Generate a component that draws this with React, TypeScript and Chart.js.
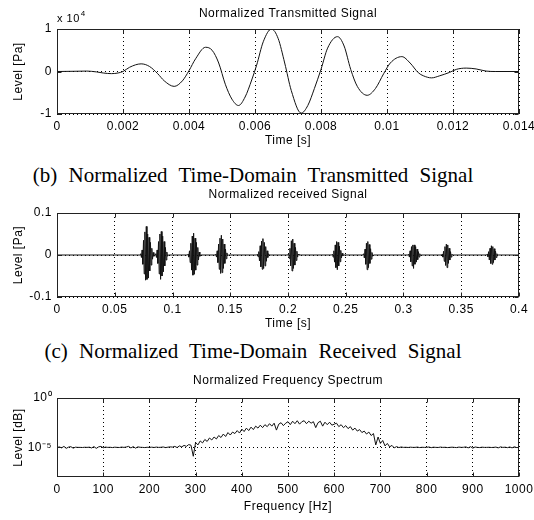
import React, { useEffect, useRef } from "react";
import { Chart, registerables } from "chart.js";

Chart.register(...registerables);

const FONT = "'Liberation Sans', Arial, Helvetica, sans-serif";
const SERIF = "'Liberation Serif', 'Times New Roman', serif";

// ---------- Panel 1: Normalized Transmitted Signal (level in units of 10^4 Pa) ----------
const txTime = [
  0, 0.0005, 0.0009, 0.0012, 0.0014, 0.00165, 0.00185, 0.002, 0.0022, 0.00255,
  0.0028, 0.00305, 0.00325, 0.00355, 0.0038, 0.004, 0.0042, 0.0045, 0.0047, 0.0049,
  0.0051, 0.0053, 0.0055, 0.0057, 0.0059, 0.00605, 0.00625, 0.0065, 0.0067, 0.0069,
  0.0071, 0.0074, 0.0076, 0.0078, 0.008, 0.0082, 0.0085, 0.0087, 0.0089, 0.0091,
  0.0094, 0.00965, 0.0099, 0.0101, 0.01045, 0.0107, 0.01095, 0.0111, 0.01135, 0.0116,
  0.0119, 0.0121, 0.0124, 0.0127, 0.013, 0.0133, 0.014,
];
const txLevel = [
  0, 0.005, 0.01, -0.01, -0.035, -0.05, -0.035, 0, 0.1, 0.18,
  0.12, -0.05, -0.22, -0.35, -0.22, 0.02, 0.3, 0.57, 0.5, 0.2,
  -0.3, -0.65, -0.8, -0.6, -0.2, 0.15, 0.7, 1.0, 0.78, 0.2,
  -0.45, -0.98, -0.8, -0.4, 0.05, 0.55, 0.82, 0.6, 0.05, -0.35,
  -0.56, -0.4, -0.05, 0.2, 0.35, 0.2, -0.03, -0.1, -0.15, -0.1,
  -0.02, 0.05, 0.08, 0.06, 0.01, 0, 0,
];
const txXTicks = [0, 0.002, 0.004, 0.006, 0.008, 0.01, 0.012, 0.014];
const txXTickLabels = ["0", "0.002", "0.004", "0.006", "0.008", "0.01", "0.012", "0.014"];
const txYTicks = [-1, 0, 1];
const txYTickLabels = ["-1", "0", "1"];

// ---------- Panel 2: Normalized received Signal ----------
const rxSampleStep = 0.0006;
const rxBurstStart = [0.0725, 0.0855, 0.1135, 0.1375, 0.1735, 0.2005, 0.2385, 0.2655, 0.3045, 0.3335, 0.3725];
const rxBurstSamples = [
  [0.003, -0.006, 0.012, -0.022, 0.035, -0.045, 0.055, -0.06, 0.068, -0.058, 0.05, -0.055, 0.042, -0.038, 0.03, -0.024, 0.016, -0.01, 0.006, -0.003],
  [0.003, -0.006, 0.012, -0.02, 0.032, -0.045, 0.05, -0.058, 0.056, -0.05, 0.045, -0.04, 0.032, -0.026, 0.018, -0.012, 0.007, -0.003],
  [0.002, -0.005, 0.01, -0.018, 0.028, -0.036, 0.045, -0.048, 0.052, -0.046, 0.04, -0.036, 0.03, -0.024, 0.018, -0.012, 0.007, -0.003],
  [0.002, -0.005, 0.01, -0.018, 0.026, -0.034, 0.04, -0.044, 0.047, -0.042, 0.038, -0.032, 0.026, -0.02, 0.014, -0.009, 0.005, -0.002],
  [0.002, -0.004, 0.008, -0.014, 0.022, -0.028, 0.033, -0.034, 0.039, -0.032, 0.03, -0.026, 0.02, -0.015, 0.01, -0.006, 0.003],
  [0.003, -0.008, 0.016, -0.026, 0.034, -0.038, 0.038, -0.032, 0.028, -0.024, 0.018, -0.013, 0.009, -0.005, 0.002],
  [0.002, -0.005, 0.01, -0.017, 0.024, -0.03, 0.032, -0.035, 0.03, -0.026, 0.021, -0.016, 0.011, -0.007, 0.004, -0.002],
  [0.003, -0.007, 0.014, -0.022, 0.028, -0.035, 0.032, -0.03, 0.025, -0.02, 0.015, -0.01, 0.006, -0.003],
  [0.002, -0.005, 0.01, -0.016, 0.02, -0.026, 0.024, -0.032, 0.024, -0.022, 0.02, -0.017, 0.014, -0.011, 0.008, -0.005, 0.003, -0.001],
  [0.002, -0.005, 0.009, -0.015, 0.02, -0.025, 0.026, -0.03, 0.024, -0.02, 0.016, -0.012, 0.008, -0.005, 0.002],
  [0.002, -0.004, 0.008, -0.012, 0.016, -0.02, 0.022, -0.022, 0.02, -0.018, 0.015, -0.012, 0.009, -0.006, 0.003, -0.001],
];
const rxXTicks = [0, 0.05, 0.1, 0.15, 0.2, 0.25, 0.3, 0.35, 0.4];
const rxXTickLabels = ["0", "0.05", "0.1", "0.15", "0.2", "0.25", "0.3", "0.35", "0.4"];
const rxYTicks = [-0.1, 0, 0.1];
const rxYTickLabels = ["-0.1", "0", "0.1"];

// ---------- Panel 3: Normalized Frequency Spectrum (log10 of level, 5 Hz bins) ----------
const specStepHz = 5;
const specLog10 = [
  -5.02, -4.95, -5.05, -4.9, -5.1, -4.97, -4.93, -5.08, -4.98, -5.0,
  -5.0, -5.01, -4.99, -5.0, -4.98, -5.06, -4.92, -5.1, -4.95, -4.9,
  -5.04, -4.97, -5.0, -4.99, -5.02, -4.98, -5.0, -5.01, -4.97, -5.0,
  -4.96, -4.9, -5.06, -4.92, -5.08, -4.95, -4.99, -5.0, -5.02, -4.99,
  -5.0, -4.98, -5.01, -4.97, -5.0, -4.99, -4.96, -5.02, -4.98, -4.95,
  -4.97, -4.9, -5.02, -4.85, -4.95, -4.8, -4.9, -4.72, -4.78, -5.9,
  -4.5, -4.75, -4.35, -4.55, -4.2, -4.4, -4.05, -4.25, -3.95, -4.15,
  -3.8, -4.0, -3.65, -3.9, -3.5, -3.75, -3.45, -3.6, -3.3, -3.55,
  -3.15, -3.4, -3.05, -3.3, -2.95, -3.2, -2.85, -3.05, -2.75, -3.0,
  -2.7, -2.9, -2.6, -2.85, -2.55, -3.25, -2.65, -2.5, -2.8, -2.55,
  -2.4, -2.7, -2.35, -2.6, -2.3, -2.65, -2.4, -2.3, -2.6, -2.35,
  -2.55, -2.4, -3.0, -2.5, -2.35, -2.85, -2.45, -2.7, -2.45, -2.75,
  -2.65, -2.55, -2.9, -2.7, -3.0, -2.8, -3.1, -2.9, -3.25, -3.05,
  -3.35, -3.2, -3.5, -3.35, -3.65, -3.45, -3.8, -3.6, -4.75, -3.95,
  -4.6, -4.3, -4.85, -4.6, -4.95, -4.8, -5.05, -4.92, -5.02, -4.96,
  -5.0, -4.99, -5.01, -4.98, -5.0, -5.0, -4.97, -5.02, -4.99, -5.0,
  -5.0, -4.96, -5.03, -4.98, -5.0, -5.01, -4.97, -5.0, -4.99, -5.02,
  -5.0, -4.98, -5.0, -5.02, -4.97, -5.0, -4.99, -4.95, -5.05, -4.93,
  -5.08, -4.96, -5.0, -5.02, -4.98, -5.0, -5.0, -4.99, -5.01, -5.0,
  -4.97, -5.05, -4.95, -5.0, -4.98, -5.03, -4.96, -5.05, -4.94, -5.02,
  -5.0,
];
const specXTicks = [0, 100, 200, 300, 400, 500, 600, 700, 800, 900, 1000];
const specXTickLabels = ["0", "100", "200", "300", "400", "500", "600", "700", "800", "900", "1000"];
const specYTicks = [1e-5, 1];
const specYTickLabels = ["10\u207B\u2075", "10\u2070"];

// ---------- helpers ----------
const spacingPlugin = {
  id: "spacing",
  beforeUpdate(c: any) { c.ctx.letterSpacing = "0.5px"; },
  beforeDraw(c: any) { c.ctx.letterSpacing = "0.5px"; },
};

const framePlugin = {
  id: "frame",
  afterDatasetsDraw(chart: any) {
    const { ctx, chartArea: a, scales } = chart;
    const l = Math.round(a.left) + 0.5;
    const r = Math.round(a.right) - 0.5;
    const t = Math.round(a.top) + 0.5;
    const b = Math.round(a.bottom) - 0.5;
    ctx.save();
    ctx.setLineDash([]);
    ctx.strokeStyle = "#222";
    ctx.lineWidth = 1;
    ctx.strokeRect(l, t, r - l, b - t);
    const TL = 4;
    ctx.beginPath();
    scales.x.ticks.forEach((tk: any) => {
      const x = Math.round(scales.x.getPixelForValue(tk.value)) + 0.5;
      ctx.moveTo(x, b); ctx.lineTo(x, b - TL);
      ctx.moveTo(x, t); ctx.lineTo(x, t + TL);
    });
    scales.y.ticks.forEach((tk: any) => {
      const y = Math.round(scales.y.getPixelForValue(tk.value)) + 0.5;
      ctx.moveTo(l, y); ctx.lineTo(l + TL, y);
      ctx.moveTo(r, y); ctx.lineTo(r - TL, y);
    });
    ctx.stroke();
    ctx.restore();
  },
};

const exponentPlugin = {
  id: "exponent",
  afterDraw(chart: any) {
    const { ctx, chartArea: a } = chart;
    ctx.save();
    ctx.fillStyle = "#000";
    ctx.textBaseline = "alphabetic";
    ctx.textAlign = "left";
    ctx.font = `11px ${FONT}`;
    const base = "x 10";
    ctx.fillText(base, a.left, a.top - 7);
    const w = ctx.measureText(base).width;
    ctx.font = `8px ${FONT}`;
    ctx.fillText("4", a.left + w + 1, a.top - 13);
    ctx.restore();
  },
};

type PanelCfg = {
  title: string;
  titlePad: { top: number; bottom: number };
  xMin: number; xMax: number; xTicks: number[]; xTickLabels: string[]; xLabel: string; xTitlePad: number; xAxisHeight: number;
  yType: "linear" | "logarithmic"; yMin: number; yMax: number; yTicks: number[]; yTickLabels: string[]; yLabel: string;
  data: { x: number; y: number }[];
  monotone?: boolean;
  extraPlugins?: any[];
};

function makeChart(canvas: HTMLCanvasElement, p: PanelCfg) {
  const tickFont = { family: FONT, size: 12 };
  return new Chart(canvas, {
    type: "line",
    data: {
      datasets: [
        {
          data: p.data,
          borderColor: "#111",
          borderWidth: 1,
          pointRadius: 0,
          fill: false,
          tension: p.monotone ? 0.4 : 0,
          cubicInterpolationMode: p.monotone ? "monotone" : "default",
        } as any,
      ],
    },
    options: {
      responsive: false,
      maintainAspectRatio: false,
      animation: false,
      events: [],
      layout: { padding: { left: 0, right: 15, top: 0, bottom: 0 } },
      plugins: {
        legend: { display: false },
        tooltip: { enabled: false },
        title: {
          display: true,
          fullSize: false,
          text: p.title,
          color: "#000",
          font: { family: FONT, size: 12, weight: "normal", lineHeight: 1.2 },
          padding: p.titlePad,
        },
      },
      scales: {
        x: {
          type: "linear",
          min: p.xMin,
          max: p.xMax,
          afterBuildTicks: (s: any) => { s.ticks = p.xTicks.map((v) => ({ value: v })); },
          afterFit: (s: any) => { s.height = p.xAxisHeight; s.paddingLeft = 0; s.paddingRight = 0; },
          ticks: {
            color: "#000",
            font: tickFont,
            padding: 5,
            maxRotation: 0,
            autoSkip: false,
            callback: (_v: any, i: number) => p.xTickLabels[i],
          },
          grid: { color: "#000", lineWidth: 1, drawTicks: false },
          border: { display: false, dash: [1, 3] },
          title: {
            display: true,
            text: p.xLabel,
            color: "#000",
            font: { family: FONT, size: 12, lineHeight: 1.2 },
            padding: { top: p.xTitlePad, bottom: p.xTitlePad },
          },
        },
        y: {
          type: p.yType,
          min: p.yMin,
          max: p.yMax,
          afterBuildTicks: (s: any) => { s.ticks = p.yTicks.map((v) => ({ value: v })); },
          afterFit: (s: any) => { s.width = 57; s.paddingTop = 0; s.paddingBottom = 0; },
          ticks: {
            color: "#000",
            font: tickFont,
            padding: 5,
            autoSkip: false,
            callback: (_v: any, i: number) => p.yTickLabels[i],
          },
          grid: { color: "#000", lineWidth: 1, drawTicks: false },
          border: { display: false, dash: [1, 3] },
          title: {
            display: true,
            text: p.yLabel,
            color: "#000",
            font: { family: FONT, size: 12, lineHeight: 1.2 },
            padding: { top: 11.5, bottom: 11.5 },
          },
        },
      } as any,
    },
    plugins: [spacingPlugin, framePlugin, ...(p.extraPlugins || [])],
  } as any);
}

function buildRxData() {
  const pts: { x: number; y: number }[] = [{ x: 0, y: 0 }];
  rxBurstStart.forEach((start, bi) => {
    const samples = rxBurstSamples[bi];
    pts.push({ x: start - rxSampleStep, y: 0 });
    samples.forEach((v, i) => pts.push({ x: start + i * rxSampleStep, y: v }));
    pts.push({ x: start + samples.length * rxSampleStep, y: 0 });
  });
  pts.push({ x: 0.4, y: 0 });
  return pts;
}

export default function App() {
  const c1 = useRef<HTMLCanvasElement>(null);
  const c2 = useRef<HTMLCanvasElement>(null);
  const c3 = useRef<HTMLCanvasElement>(null);

  useEffect(() => {
    document.body.style.margin = "0";
    const charts: Chart[] = [];
    charts.push(
      makeChart(c1.current!, {
        title: "Normalized Transmitted Signal",
        titlePad: { top: 6, bottom: 8.6 },
        xMin: 0, xMax: 0.014, xTicks: txXTicks, xTickLabels: txXTickLabels, xLabel: "Time [s]", xTitlePad: 1.8, xAxisHeight: 36,
        yType: "linear", yMin: -1, yMax: 1, yTicks: txYTicks, yTickLabels: txYTickLabels, yLabel: "Level [Pa]",
        data: txTime.map((t, i) => ({ x: t, y: txLevel[i] })),
        monotone: true,
        extraPlugins: [exponentPlugin],
      })
    );
    charts.push(
      makeChart(c2.current!, {
        title: "Normalized received Signal",
        titlePad: { top: 3, bottom: 11.6 },
        xMin: 0, xMax: 0.4, xTicks: rxXTicks, xTickLabels: rxXTickLabels, xLabel: "Time [s]", xTitlePad: 1.8, xAxisHeight: 36,
        yType: "linear", yMin: -0.1, yMax: 0.1, yTicks: rxYTicks, yTickLabels: rxYTickLabels, yLabel: "Level [Pa]",
        data: buildRxData(),
      })
    );
    charts.push(
      makeChart(c3.current!, {
        title: "Normalized Frequency Spectrum",
        titlePad: { top: 4, bottom: 10.6 },
        xMin: 0, xMax: 1000, xTicks: specXTicks, xTickLabels: specXTickLabels, xLabel: "Frequency [Hz]", xTitlePad: 5.8, xAxisHeight: 43,
        yType: "logarithmic", yMin: 1e-8, yMax: 1, yTicks: specYTicks, yTickLabels: specYTickLabels, yLabel: "Level [dB]",
        data: specLog10.map((v, i) => ({ x: i * specStepHz, y: Math.pow(10, v) })),
      })
    );
    return () => charts.forEach((c) => c.destroy());
  }, []);

  const caption: React.CSSProperties = {
    position: "absolute",
    left: 0,
    width: 506,
    textAlign: "center",
    fontFamily: SERIF,
    fontSize: 21,
    lineHeight: "24px",
    wordSpacing: 6,
    color: "#000",
    whiteSpace: "nowrap",
  };

  return (
    <div style={{ position: "absolute", left: 0, top: 0, width: 534, height: 520, background: "#fff", overflow: "hidden" }}>
      <canvas ref={c1} width={534} height={150} style={{ position: "absolute", left: 0, top: 0 }} />
      <div style={{ ...caption, top: 163 }}>(b) Normalized Time-Domain Transmitted Signal</div>
      <canvas ref={c2} width={534} height={149} style={{ position: "absolute", left: 0, top: 184 }} />
      <div style={{ ...caption, top: 339 }}>(c) Normalized Time-Domain Received Signal</div>
      <canvas ref={c3} width={534} height={151} style={{ position: "absolute", left: 0, top: 369 }} />
    </div>
  );
}
